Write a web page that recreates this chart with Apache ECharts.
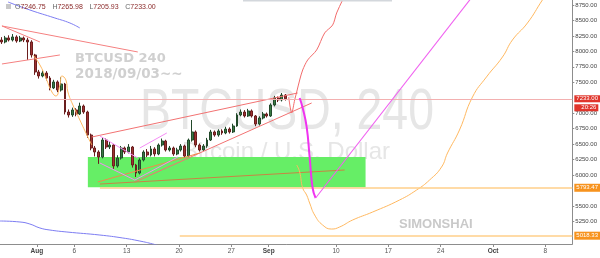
<!DOCTYPE html>
<html>
<head>
<meta charset="utf-8">
<script src="https://cdn.jsdelivr.net/npm/echarts@6.0.0/dist/echarts.min.js"></script>
<style>html,body{margin:0;padding:0;background:#fff;}#c{width:600px;height:258px;}</style>
</head>
<body>
<div id="c"></div>
<script>
// ---- axis ticks (x = days since Aug 1, 2018) ----
const xTickDays = [0, 5, 12, 19, 26, 31, 40, 47, 54, 61, 68];
const xTickLabels = ['Aug', '6', '13', '20', '27', 'Sep', '10', '17', '24', 'Oct', '8'];
const yTickValues = [5250, 5500, 6000, 6250, 6500, 6750, 7000, 7500, 7750, 8000, 8250, 8500, 8750];

// ---- 12h candles starting Jul 27 06:00 ----
const candleStartDay = -4.75;
const candleStepDays = 0.5;
const opens  = [8184,8152,8217,8184,8233,8168,8217,8184,8152,7942,7667,7602,7650,7569,7408,7505,7375,7472,7019,6971,7052,6987,7116,7019,6647,6437,6372,6291,6566,6453,6485,6146,6275,6437,6372,6453,6162,6032,6243,6372,6324,6421,6340,6485,6550,6405,6437,6340,6405,6469,6307,6566,6696,6485,6405,6469,6566,6696,6647,6712,6680,6744,6696,6793,6971,7019,6955,7036,6955,6825,6922,6987,6955,7133,7246,7214,7294];
const closes = [8152,8217,8184,8233,8168,8217,8184,8152,7942,7667,7602,7650,7569,7408,7505,7375,7472,7019,6971,7052,6987,7116,7019,6647,6437,6372,6291,6566,6453,6485,6146,6275,6437,6372,6453,6162,6032,6243,6372,6324,6421,6340,6485,6550,6405,6437,6340,6405,6469,6307,6566,6696,6485,6405,6469,6566,6696,6647,6712,6680,6744,6696,6793,6971,7019,6955,7036,6955,6825,6922,6987,6955,7133,7246,7214,7294,7233];
const lows   = [8120,8130,8160,8160,8140,8150,8150,7861,7900,7620,7560,7580,7530,7370,7390,7340,7350,6980,6930,6940,6950,6970,6990,6600,6400,6300,6180,6270,6420,6420,6100,6120,6250,6340,6350,6120,5968,6010,6220,6290,6300,6300,6320,6460,6380,6380,6310,6320,6380,6275,6290,6540,6450,6380,6390,6440,6550,6620,6620,6650,6660,6670,6680,6780,6950,6930,6940,6930,6790,6800,6900,6930,6940,7110,7180,7190,7205];
const highs  = [8230,8250,8260,8280,8260,8250,8240,8220,8180,7960,7700,7690,7680,7600,7540,7530,7580,7490,7060,7090,7080,7170,7140,7040,6670,6470,6400,6610,6590,6540,6500,6320,6470,6460,6500,6470,6180,6270,6400,6420,6470,6450,6510,6590,6570,6470,6460,6440,6500,6490,6590,6890,6720,6510,6500,6600,6730,6720,6740,6740,6780,6770,6830,7000,7060,7050,7070,7060,6970,6950,7020,7010,7160,7280,7270,7327,7310];

// ---- drawings [day, price] ----
const redTopLong   = [[-4.68, 8411], [13.49, 7990]];
const redTopShort  = [[-4.68, 8411], [0.40, 8152]];
const redLeftRise  = [[-4.68, 7796], [3.07, 7942]];
const blueTop      = [[-3.87, 8799], [-0.94, 8669], [2.40, 8540], [4.41, 8459], [5.74, 8378]];
const blueBottom   = [[-4.94, 5256], [-2.27, 5240], [-0.94, 5207], [0.40, 5143], [1.74, 5110], [4.01, 5078], [8.42, 5029], [11.49, 4981], [13.76, 4932], [15.50, 4884], [16.40, 4851]];
const orangeLeft   = [[-0.53, 7942], [0.40, 7780], [1.20, 7569], [2.00, 7343], [2.54, 7278], [3.07, 7456], [3.34, 7602], [3.87, 7537], [4.14, 7343], [4.81, 7133], [5.74, 6890], [6.81, 6615], [7.35, 6485]];
const wedgeUpper   = [[7.35, 6615], [34.87, 7327]];
const wedgeLower   = [[13.09, 5887], [36.74, 7165]];
const supportRise  = [[8.15, 5887], [21.78, 6356]];
const baseLine     = [[8.42, 5854], [41.15, 6081]];
const flagA        = [[8.42, 6631], [13.49, 6275]];
const flagB        = [[8.42, 6194], [13.09, 5919], [18.84, 6291]];
const flagC        = [[13.76, 6437], [17.37, 6680]];
const redProjection = [[33.67, 7262], [34.07, 7003], [34.47, 7214], [34.74, 7343], [35.14, 7537], [35.54, 7699], [36.21, 7861], [37.41, 8023], [38.48, 8298], [39.55, 8427], [40.08, 8621], [40.88, 8831], [41.55, 8993]];
const magentaDrop  = [[35.14, 7246], [35.54, 7084], [36.07, 6777], [36.47, 6291], [36.87, 5790], [37.27, 5628]];
const magentaRise  = [[37.27, 5628], [58.92, 8993]];
const orangeProjection = [[34.74, 6162], [35.14, 6049], [35.54, 5790], [36.07, 5676], [36.47, 5547], [37.14, 5353], [38.21, 5191], [39.41, 5126], [40.48, 5159], [42.22, 5272], [44.89, 5401], [48.50, 5596], [50.77, 5757], [52.51, 5919], [54.11, 6129], [54.91, 6356], [56.51, 6728], [58.25, 7262], [60.12, 7586], [62.26, 7909], [63.59, 8184], [65.60, 8459], [67.60, 8831], [68.54, 8993]];

// ---- levels ----
const lastPrice = 7233.00;
const countdown = '20:26';
const level1 = 5793.47, level1StartDay = 8.42;
const level2 = 5018.33, level2StartDay = 19.10;
const zoneDays = [6.81, 43.95];
const zonePrices = [6291, 5800];
const ohlcText = { O: '7246.75', H: '7265.98', L: '7205.93', C: '7233.00' };

const X_MIN = -4.94, X_MAX = 71.6, Y_MIN = 4884, Y_MAX = 8831;

const candleData = opens.map((o, i) => [candleStartDay + i * candleStepDays, o, closes[i], lows[i], highs[i]]);

function drawLine(data, color, width, smooth, z) {
  return { type: 'line', data: data, showSymbol: false, symbol: 'none', smooth: smooth || false,
    lineStyle: { color: color, width: width }, z: z || 4, silent: true, animation: false };
}

const chart = echarts.init(document.getElementById('c'), null, { renderer: 'canvas', width: 600, height: 258 });

const option = {
  animation: false,
  grid: { left: 0, top: 0, right: 27, bottom: 14, containLabel: false },
  xAxis: {
    type: 'value', min: X_MIN, max: X_MAX,
    axisLine: { onZero: false, lineStyle: { color: '#8d8d8d', width: 1 } },
    axisTick: { customValues: xTickDays, length: 3, lineStyle: { color: '#8d8d8d' } },
    splitLine: { show: false },
    axisLabel: {
      customValues: xTickDays, fontSize: 6.5, color: '#555', margin: 4, fontFamily: 'Liberation Sans',
      formatter: function (v) {
        const i = xTickDays.indexOf(Math.round(v));
        const t = i >= 0 ? xTickLabels[i] : '';
        return /^[A-Za-z]/.test(t) ? '{m|' + t + '}' : t;
      },
      rich: { m: { fontWeight: 'bold', fontSize: 6.5, color: '#444', fontFamily: 'Liberation Sans' } }
    }
  },
  yAxis: {
    type: 'value', position: 'right', min: Y_MIN, max: Y_MAX, scale: true,
    axisLine: { show: true, onZero: false, lineStyle: { color: '#8d8d8d' } },
    axisTick: { show: true, customValues: yTickValues, length: 2, lineStyle: { color: '#8d8d8d' } },
    splitLine: { show: false },
    axisLabel: { customValues: yTickValues, fontSize: 6, color: '#444', margin: 3, fontFamily: 'Liberation Sans',
      formatter: function (v) { return v.toFixed(2); } }
  },
  graphic: [
    { type: 'text', x: 287, y: 113, z: -1, scaleX: 0.8, style: { text: 'BTCUSD, 240', font: '58px "Liberation Sans"', fill: '#e6e6e6', textAlign: 'center', textVerticalAlign: 'middle' } },
    { type: 'text', x: 286, y: 152, z: -1, style: { text: 'Bitcoin / U.S. Dollar', font: '24px "Liberation Sans"', fill: '#e6e6e6', textAlign: 'center', textVerticalAlign: 'middle' } },
    { type: 'text', x: 75, y: 59, z: -1, style: { text: 'BTCUSD 240', font: 'bold 13px "DejaVu Sans"', fill: '#d0d0d0', textAlign: 'left', textVerticalAlign: 'middle' } },
    { type: 'text', x: 75, y: 74, z: -1, style: { text: '2018/09/03~~', font: 'bold 13.5px "DejaVu Sans"', fill: '#d0d0d0', textAlign: 'left', textVerticalAlign: 'middle' } },
    { type: 'text', x: 399, y: 224, z: -1, style: { text: 'SIMONSHAI', font: 'bold 13px "Liberation Sans"', fill: '#c9c9c9', textAlign: 'left', textVerticalAlign: 'middle' } },
    { type: 'rect', shape: { x: 243, y: 0, width: 149, height: 1.5 }, style: { fill: '#d3d7dc' }, z: 10 },
    { type: 'rect', shape: { x: 6, y: 4, width: 5, height: 5 }, style: { fill: '#c8c8c8' }, z: 10 },
    { type: 'text', x: 15, y: 7, z: 10, style: {
        text: '{k|O}{v|' + ohlcText.O + '}  {k|H}{v|' + ohlcText.H + '}  {k|L}{v|' + ohlcText.L + '}  {k|C}{v|' + ohlcText.C + '}',
        textVerticalAlign: 'middle', rich: { k: { fontSize: 7, fill: '#666', fontFamily: 'Liberation Sans' }, v: { fontSize: 7, fill: '#8b2a2a', fontFamily: 'Liberation Sans' } } } }
  ],
  series: [
    {
      type: 'line', name: 'levels', data: [], z: 1, clip: false, silent: true,
      markArea: {
        silent: true,
        itemStyle: { color: '#66ee66', opacity: 1 },
        data: [[{ coord: [zoneDays[0], zonePrices[0]] }, { coord: [zoneDays[1], zonePrices[1]] }]]
      },
      markLine: {
        silent: true, symbol: ['none', 'none'], animation: false,
        data: [
          [{ coord: [X_MIN, lastPrice], lineStyle: { color: '#f3b0b0', width: 1, type: 'solid' },
             label: { show: true, position: 'end', distance: 2,
               formatter: function () { return '{pz|}\n{pv|' + lastPrice.toFixed(2) + '}\n{pt|' + countdown + '}'; },
               rich: {
                 pz: { lineHeight: 9, height: 8, fontSize: 6 },
                 pv: { lineHeight: 9, height: 7, fontSize: 6, color: '#fff', backgroundColor: '#e0352b', padding: [0, 2], fontFamily: 'Liberation Sans' },
                 pt: { lineHeight: 9, height: 7, fontSize: 6, color: '#fff', backgroundColor: '#e0352b', padding: [0, 2, 0, 7], fontFamily: 'Liberation Sans' }
               } } },
           { coord: [X_MAX, lastPrice] }],
          [{ coord: [level1StartDay, level1], lineStyle: { color: '#ffcf8a', width: 1.5, type: 'solid' },
             label: { show: true, position: 'end', distance: 2, formatter: level1.toFixed(2),
               color: '#fff', backgroundColor: '#f7931e', fontSize: 6, padding: [1, 2], fontFamily: 'Liberation Sans' } },
           { coord: [X_MAX, level1] }],
          [{ coord: [level2StartDay, level2], lineStyle: { color: '#ffcf8a', width: 1.5, type: 'solid' },
             label: { show: true, position: 'end', distance: 2, formatter: level2.toFixed(2),
               color: '#fff', backgroundColor: '#f7931e', fontSize: 6, padding: [1, 2], fontFamily: 'Liberation Sans' } },
           { coord: [X_MAX, level2] }]
        ]
      }
    },
    {
      type: 'candlestick', data: candleData, barWidth: 2.4, z: 3, silent: true,
      itemStyle: { color: '#3a7a44', color0: '#9e3232', borderColor: '#22492a', borderColor0: '#6a1e1e', borderWidth: 1 }
    },
    drawLine(redTopLong, '#f58080', 1),
    drawLine(redTopShort, '#f58080', 1),
    drawLine(redLeftRise, '#f58080', 1),
    drawLine(blueTop, '#7d7df2', 1, true),
    drawLine(blueBottom, '#7d7df2', 1, true),
    drawLine(orangeLeft, '#ffb860', 1, true),
    drawLine(wedgeUpper, '#f27272', 1),
    drawLine(wedgeLower, '#f27272', 1),
    drawLine(supportRise, '#f08a4b', 1),
    drawLine(baseLine, '#c98444', 1),
    drawLine(flagA, '#f58cf5', 1),
    drawLine(flagB, '#f58cf5', 1),
    drawLine(flagC, '#f58cf5', 1),
    drawLine(redProjection, '#f26b6b', 1, 0.3),
    drawLine(orangeProjection, '#ffb860', 1, true),
    drawLine(magentaDrop, '#f032f0', 2, true, 5),
    drawLine(magentaRise, '#f060f0', 1.1, false, 5)
  ]
};
chart.setOption(option);
</script>
</body>
</html>
